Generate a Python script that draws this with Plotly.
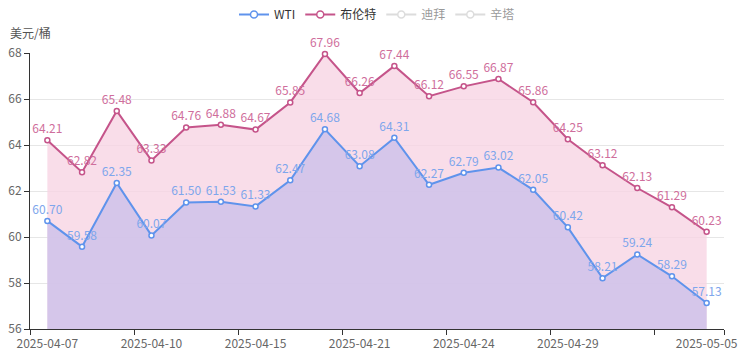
import plotly.graph_objects as go

dates = ["2025-04-07", "2025-04-08", "2025-04-09", "2025-04-10", "2025-04-11",
         "2025-04-14", "2025-04-15", "2025-04-16", "2025-04-17", "2025-04-21",
         "2025-04-22", "2025-04-23", "2025-04-24", "2025-04-25", "2025-04-28",
         "2025-04-29", "2025-04-30", "2025-05-01", "2025-05-02", "2025-05-05"]
wti = [60.70, 59.58, 62.35, 60.07, 61.50, 61.53, 61.33, 62.47, 64.68, 63.08,
       64.31, 62.27, 62.79, 63.02, 62.05, 60.42, 58.21, 59.24, 58.29, 57.13]
brent = [64.21, 62.82, 65.48, 63.33, 64.76, 64.88, 64.67, 65.85, 67.96, 66.26,
         67.44, 66.12, 66.55, 66.87, 65.86, 64.25, 63.12, 62.13, 61.29, 60.23]
tick_labels = ["2025-04-07", "2025-04-10", "2025-04-15", "2025-04-21",
               "2025-04-24", "2025-04-29", "2025-05-05"]
y_ticks = [56, 58, 60, 62, 64, 66, 68]

idx = list(range(len(dates)))
tick_idx = [dates.index(d) for d in tick_labels]
boundaries = [-0.5, 2.5, 5.5, 8.5, 11.5, 14.5, 17.5, len(dates) - 0.5]
xr = [-0.5, len(dates) - 0.5]

FONT = "Noto Sans CJK SC, Microsoft YaHei, sans-serif"
WTI_C = "#5f93ec"
BRENT_C = "#c5548a"

fig = go.Figure()
fig.add_trace(go.Scatter(
    x=idx, y=brent, name="布伦特", mode="lines+markers+text",
    line=dict(color=BRENT_C, width=2),
    marker=dict(symbol="circle", size=5, color="white", line=dict(color=BRENT_C, width=1.5)),
    fill="tozeroy", fillcolor="rgba(248,212,228,0.8)",
    text=[f"{v:.2f}" for v in brent], textposition="top center",
    textfont=dict(color="#cf6e9c", size=12, family=FONT),
    cliponaxis=False, customdata=dates, xaxis="x", yaxis="y",
    showlegend=False, legendgroup="brent",
))
fig.add_trace(go.Scatter(
    x=idx, y=wti, name="WTI", mode="lines+markers+text",
    line=dict(color=WTI_C, width=2),
    marker=dict(symbol="circle", size=5, color="white", line=dict(color=WTI_C, width=1.5)),
    fill="tozeroy", fillcolor="rgba(204,192,234,0.8)",
    text=[f"{v:.2f}" for v in wti], textposition="top center",
    textfont=dict(color="#7ea6ec", size=12, family=FONT),
    cliponaxis=False, customdata=dates, xaxis="x2", yaxis="y",
    showlegend=False, legendgroup="wti",
))
# legend entries (line + hollow circle, as in the reference)
legend_items = [("WTI", WTI_C, True, "wti", 1), ("布伦特", BRENT_C, True, "brent", 2),
                ("迪拜", "#bbbbbb", "legendonly", "dubai", 3),
                ("辛塔", "#bbbbbb", "legendonly", "cinta", 4)]
for nm, col, vis, grp, rank in legend_items:
    fig.add_trace(go.Scatter(x=idx, y=[None] * len(idx), name=nm, mode="lines+markers",
                             line=dict(color=col, width=2),
                             marker=dict(size=7, color="white", line=dict(color=col, width=1.5)),
                             visible=vis, legendgroup=grp, legendrank=rank, showlegend=True))

fig.update_layout(
    width=741, height=359,
    margin=dict(l=30, r=17, t=53, b=30, autoexpand=False),
    paper_bgcolor="white", plot_bgcolor="white",
    font=dict(family=FONT, size=12, color="#666666"),
    showlegend=True,
    legend=dict(orientation="h", x=0.5, xanchor="center", y=1.0, yref="container",
                yanchor="top", font=dict(size=12, color="#333333"),
                traceorder="normal", itemwidth=30),
    xaxis=dict(range=xr, tickmode="array", tickvals=boundaries,
               ticktext=[""] * len(boundaries), automargin=False,
               ticks="outside", ticklen=5, tickcolor="#333333",
               showgrid=False, showline=True, linecolor="#333333",
               linewidth=1, zeroline=False),
    xaxis2=dict(overlaying="x", anchor="y", side="bottom", range=xr, automargin=False,
                tickmode="array", tickvals=tick_idx, ticktext=tick_labels,
                ticks="", ticklabelstandoff=6, showgrid=False, showline=False,
                zeroline=False, tickfont=dict(size=12, color="#666666")),
    yaxis=dict(range=[56, 68], tickvals=y_ticks, ticks="outside", ticklen=5,
               tickcolor="#333333", showline=True, linecolor="#333333", linewidth=1,
               gridcolor="#e6e6e6", gridwidth=1, zeroline=False, automargin=False,
               tickfont=dict(size=12, color="#666666")),
    annotations=[dict(text="美元/桶", xref="paper", yref="paper", x=-0.031, y=1.0,
                      xanchor="left", yanchor="bottom", yshift=10, showarrow=False,
                      font=dict(size=12, color="#555555"))],
)

fig.write_html("out.html", config={"displayModeBar": False},
               post_script="document.body.style.margin='0';document.body.style.overflow='hidden';")
